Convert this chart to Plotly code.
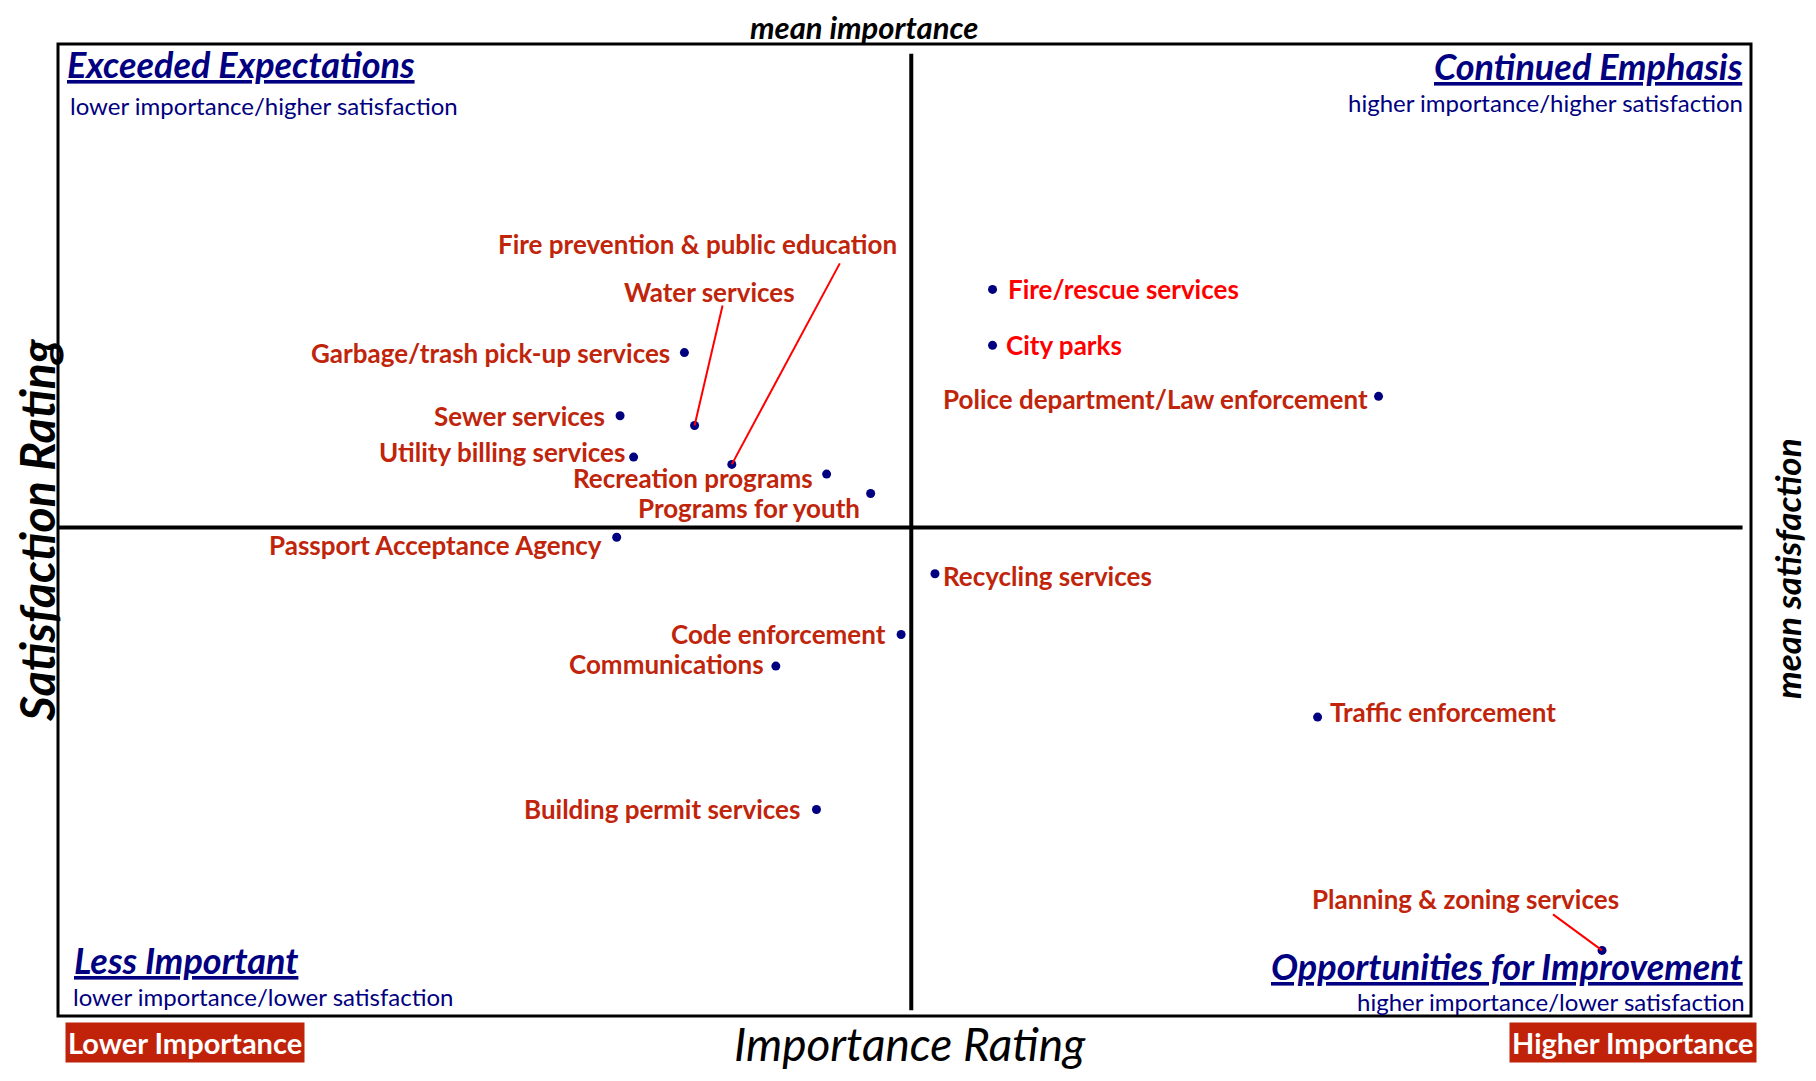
import plotly.graph_objects as go

# importance-satisfaction matrix data
services = [
    "Fire/rescue services", "City parks", "Police department/Law enforcement",
    "Garbage/trash pick-up services", "Water services", "Sewer services",
    "Utility billing services", "Fire prevention & public education",
    "Recreation programs", "Programs for youth", "Passport Acceptance Agency",
    "Recycling services", "Code enforcement", "Communications",
    "Traffic enforcement", "Building permit services", "Planning & zoning services",
]
importance = [27.6, 27.6, 39.0, 18.5, 18.8, 16.6, 17.0, 19.9, 22.7, 24.0,
              16.5, 25.9, 24.9, 21.2, 37.2, 22.4, 45.6]
satisfaction = [84.9, 82.6, 80.5, 82.3, 79.3, 79.7, 78.0, 77.7, 77.3, 76.5,
                74.7, 73.2, 70.7, 69.4, 67.3, 63.5, 57.7]
mean_importance = 25.2
mean_satisfaction = 75.1

# label placement: (dx, dy, xanchor) in pixels from the dot
label_pos = {
    "Fire/rescue services": (13, 0, "left"),
    "City parks": (11, 0, "left"),
    "Police department/Law enforcement": (-9, 3, "right"),
    "Garbage/trash pick-up services": (-12, 0, "right"),
    "Water services": (102, -134, "right"),
    "Sewer services": (-13, 0, "right"),
    "Utility billing services": (-7, -5, "right"),
    "Fire prevention & public education": (167, -220, "right"),
    "Recreation programs": (-12, 4, "right"),
    "Programs for youth": (-9, 14, "right"),
    "Passport Acceptance Agency": (-13, 8, "right"),
    "Recycling services": (6, 2, "left"),
    "Code enforcement": (-13, 0, "right"),
    "Communications": (-10, -2, "right"),
    "Traffic enforcement": (10, -5, "left"),
    "Building permit services": (-14, 0, "right"),
    "Planning & zoning services": (19, -51, "right"),
}
leaders = {
    "Water services": (28, -120),
    "Fire prevention & public education": (108, -201),
    "Planning & zoning services": (-49, -36),
}
bright = {"Fire/rescue services", "City parks"}

# page has an 8px body margin, so the figure sits at (8, 8) on screen
OFF = 8
W, H = 1800, 1065
L, R, T, B = 58, 1751, 44, 1016   # plot frame in screen pixels
PW, PH = R - L, B - T
NAVY = "#000080"
LABEL = "#C0250B"
FONT = "Lato"


def px(x):
    return (x - L) / PW


def py(y):
    return (B - y) / PH


fig = go.Figure()
fig.add_trace(go.Scatter(x=importance, y=satisfaction, mode="markers",
                         marker=dict(color=NAVY, size=9), hoverinfo="text",
                         text=services, showlegend=False))

ann = []
for name, xi, yi in zip(services, importance, satisfaction):
    dx, dy, anchor = label_pos[name]
    ann.append(dict(x=xi, y=yi, xref="x", yref="y", text="<b>%s</b>" % name,
                    showarrow=False, xshift=dx, yshift=-dy, xanchor=anchor,
                    yanchor="middle",
                    font=dict(family=FONT, size=26,
                              color="#FF0000" if name in bright else LABEL)))

shapes = []
for name, (tx, ty) in leaders.items():
    i = services.index(name)
    shapes.append(dict(type="line", xref="x", yref="y",
                       xsizemode="pixel", ysizemode="pixel",
                       xanchor=importance[i], yanchor=satisfaction[i],
                       x0=0, y0=0, x1=tx, y1=-ty,
                       line=dict(color="#FF0000", width=2)))

# mean lines
shapes.append(dict(type="line", xref="x", yref="paper", x0=mean_importance,
                   x1=mean_importance, y0=0.006, y1=0.99,
                   line=dict(color="black", width=4)))
shapes.append(dict(type="line", xref="paper", yref="y", x0=0, x1=0.995,
                   y0=mean_satisfaction, y1=mean_satisfaction,
                   line=dict(color="black", width=4)))
# frame
shapes.append(dict(type="rect", xref="paper", yref="paper", x0=0, x1=1, y0=0, y1=1,
                   line=dict(color="black", width=3)))


def txt(x, y, s, size, color="black", anchor="center", **kw):
    ann.append(dict(x=px(x), y=py(y), xref="paper", yref="paper", text=s,
                    showarrow=False, xanchor=anchor, yanchor="middle",
                    font=dict(family=FONT, size=size, color=color), **kw))


# quadrant titles
txt(65, 64, "<b><i><u>Exceeded Expectations</u></i></b>", 36, NAVY, "left")
txt(68, 106, "lower importance/higher satisfaction", 24, NAVY, "left")
txt(1745, 66, "<b><i><u>Continued Emphasis</u></i></b>", 36, NAVY, "right")
txt(1745, 102, "higher importance/higher satisfaction", 24, NAVY, "right")
txt(72, 960, "<b><i><u>Less Important</u></i></b>", 36, NAVY, "left")
txt(71, 996, "lower importance/lower satisfaction", 24, NAVY, "left")
txt(1745, 966, "<b><i><u>Opportunities for Improvement</u></i></b>", 36, NAVY, "right")
txt(1747, 1001, "higher importance/lower satisfaction", 24, NAVY, "right")

# axis titles
txt(864, 27, "<b><i>mean importance</i></b>", 31)
txt(910, 1043, "<i>Importance Rating</i>", 46)
txt(36, 530, "<b><i>Satisfaction Rating</i></b>", 48, textangle=-90)
txt(1787, 569, "<b><i>mean satisfaction</i></b>", 35, textangle=-90)

# importance flags
txt(185, 1042, "<b>Lower Importance</b>", 29, "white", bgcolor="#C0230A", borderpad=2)
txt(1633, 1042, "<b>Higher Importance</b>", 29, "white", bgcolor="#C0230A", borderpad=2)

fig.update_layout(
    width=W, height=H, paper_bgcolor="white", plot_bgcolor="white",
    margin=dict(l=L - OFF, r=OFF + W - R, t=T - OFF, b=OFF + H - B),
    xaxis=dict(range=[0, 50], visible=False, fixedrange=True),
    yaxis=dict(range=[55, 95], visible=False, fixedrange=True),
    annotations=ann, shapes=shapes,
)

fig.write_html("out.html")
